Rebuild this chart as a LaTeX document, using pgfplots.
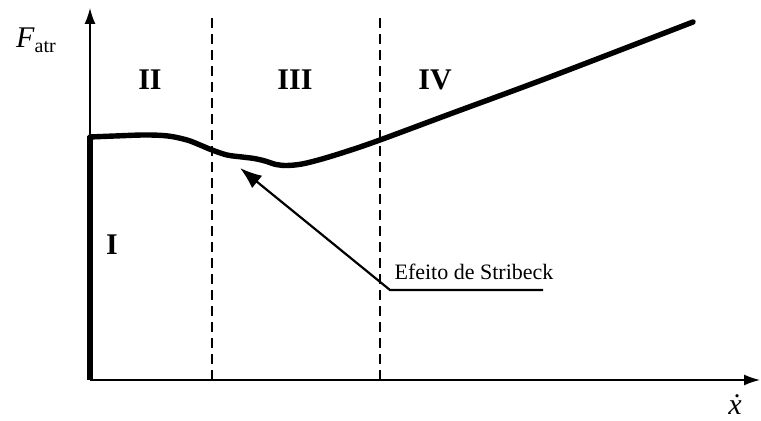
\documentclass[border=0pt]{standalone}
\usepackage{fontspec}
\setmainfont{Liberation Serif}
\usepackage{pgfplots}
\pgfplotsset{compat=1.18}
\usetikzlibrary{arrows.meta}
\begin{document}
\begin{tikzpicture}
\begin{axis}[
  scale only axis,
  width=335pt, height=186pt,
  xmin=0, xmax=670, ymin=0, ymax=372,
  axis lines=left,
  axis line style={line width=0.75pt, -{Latex[length=8pt,width=5.5pt]}},
  xtick=\empty, ytick=\empty,
  clip=false,
]
% vertical static segment (region I)
\addplot[black, line width=2.8pt, line cap=butt] coordinates {(0,0) (0,244)};
% friction curve
\addplot[black, line width=2.7pt, smooth, tension=0.55, line cap=round] coordinates {
(0,243) (25,244) (55,245) (78,244) (97,240) (110,235) (122,230) (137,225)
(152,223) (164,221.5) (175,219) (186,215.5) (197,214.5) (212,216) (232,221)
(258,229) (290,240) (360,266) (460,303) (603,358)};
% dashed region separators
\draw[black, line width=0.8pt, dash pattern=on 5pt off 3pt] (axis cs:122,0) -- (axis cs:122,365);
\draw[black, line width=0.8pt, dash pattern=on 5pt off 3pt] (axis cs:290,0) -- (axis cs:290,365);
% Stribeck annotation
\draw[black, line width=1.1pt, -{Latex[length=11pt,width=8pt]}]
  (axis cs:453,90) -- (axis cs:300,90) -- (axis cs:150,212);
\node[anchor=base, font=\fontsize{11}{11}\selectfont] at (axis cs:384,100) {Efeito de Stribeck};
% region labels
\node[font=\fontsize{15}{15}\selectfont\bfseries] at (axis cs:60,300) {II};
\node[font=\fontsize{15}{15}\selectfont\bfseries] at (axis cs:205,300) {III};
\node[font=\fontsize{15}{15}\selectfont\bfseries] at (axis cs:345,300) {IV};
\node[font=\fontsize{15}{15}\selectfont\bfseries] at (axis cs:22,135) {I};
% axis labels
\node[anchor=base] at (axis cs:-54,332) {{\fontsize{15}{15}\selectfont\textit{F}}\raisebox{-2.5pt}{\fontsize{10}{10}\selectfont atr}};
\node[anchor=base, font=\fontsize{15}{15}\selectfont] at (axis cs:645,-35) {\textit{\.x}};
\coordinate (bl) at (axis cs:-90,-41);
\coordinate (tr) at (axis cs:671,380);
\end{axis}
\pgfresetboundingbox
\path[use as bounding box] (bl) rectangle (tr);
\end{tikzpicture}
\end{document}
